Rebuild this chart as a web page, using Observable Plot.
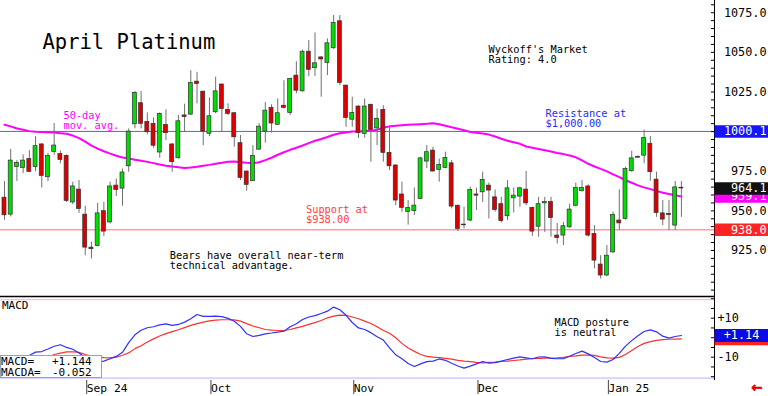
<!DOCTYPE html>
<html><head><meta charset="utf-8">
<script src="https://cdn.jsdelivr.net/npm/d3@7"></script>
<script src="https://cdn.jsdelivr.net/npm/@observablehq/plot@0.6"></script>
<style>
html,body{margin:0;padding:0;background:#fff;}
#chart{position:relative;width:768px;height:396px;overflow:hidden;font-family:"DejaVu Sans Mono",monospace;background:#fff;}
#chart svg{position:absolute;left:0;}
#readout{position:absolute;left:0;top:355px;width:100px;height:21px;border:1px solid #a0a0a0;background:#fff;font-size:11px;line-height:11px;color:#000;}
#readout .row{position:relative;height:11px;}
#readout .val{position:absolute;left:51px;top:0;}
</style></head>
<body><div id="chart"></div>
<script>
// ---- data (daily candles, index 0 = first bar) ----
const open = [958.3,947.6,977.6,977.1,982.7,977.6,991.9,971.2,987.2,985.8,
984.7,955.3,963.4,947.6,926.8,927.8,949.8,942.7,965.9,964.0,
978.1,1004.6,1017.9,1006.1,1004.9,986.8,1004.1,991.9,983.2,1010.2,
1010.7,1031.5,1025.2,998.6,1012.2,1029.7,1013.7,1011.6,992.7,974.8,
968.7,988.6,1000.0,1015.0,1004.3,1016.3,1011.8,1035.3,1025.4,1050.4,
1040.0,1046.8,1043.3,1052.6,1069.6,1029.0,1007.5,1015.8,998.6,1016.9,
1002.0,1013.7,986.6,978.6,960.3,949.2,949.8,957.5,981.1,988.0,
975.8,977.1,980.0,953.2,941.3,943.9,960.3,961.7,965.9,958.5,
954.2,946.6,957.9,959.0,963.4,951.9,940.0,954.7,955.5,934.4,
934.4,939.6,953.2,962.4,965.4,935.4,916.1,909.2,923.8,943.9,
944.9,975.0,983.5,984.8,992.3,969.7,948.4,948.1,940.7,964.6];
const high = [968.5,988.8,981.7,985.3,988.0,996.9,992.4,986.3,1005.1,987.8,
985.3,968.1,969.1,952.9,930.1,954.7,955.3,968.1,970.1,976.4,
1001.7,1025.4,1025.2,1011.8,1008.6,1011.8,1013.8,992.2,1010.2,1017.3,
1038.4,1037.4,1025.4,1021.3,1034.3,1029.9,1017.5,1011.8,997.5,975.1,
991.1,1005.1,1018.3,1016.9,1020.6,1032.1,1033.6,1044.1,1051.4,1057.4,
1062.2,1047.3,1058.5,1073.2,1073.2,1029.3,1021.7,1016.3,1020.6,1017.3,
1014.2,1016.3,1002.7,979.2,968.1,956.5,964.4,983.7,991.1,990.1,
982.7,987.0,981.7,953.7,952.2,965.0,964.4,974.4,967.5,963.2,
958.5,969.1,964.4,964.9,974.8,952.2,958.5,958.5,958.5,942.0,
942.7,954.2,967.5,969.1,966.4,940.7,921.7,928.1,949.2,963.2,
977.6,987.6,984.7,1001.0,996.9,974.4,956.5,956.5,968.5,968.5];
const low = [944.1,946.1,968.5,973.6,974.4,974.6,964.4,968.5,985.1,979.7,
955.3,953.9,948.4,921.7,919.7,927.3,933.9,941.7,959.0,952.9,
974.4,1001.7,1001.7,998.0,989.5,983.2,994.3,974.4,982.7,999.6,
1010.2,1017.5,991.1,996.8,1011.2,999.6,1010.2,990.1,969.1,962.4,
968.5,988.3,992.7,999.0,1004.1,1014.2,1010.2,1023.8,1024.9,1034.6,
1034.7,1021.7,1035.3,1051.9,1029.0,1002.7,1002.7,995.7,995.9,980.7,
991.1,980.7,975.4,953.2,949.2,941.0,947.1,957.3,976.6,974.6,
968.1,976.6,951.2,936.9,938.6,943.0,950.2,955.3,944.9,949.2,
942.5,943.9,948.7,952.2,953.2,933.9,933.4,936.4,933.4,929.1,
928.1,939.0,952.7,961.9,933.4,913.4,907.0,908.5,923.2,937.6,
944.1,974.4,983.2,979.7,968.7,945.9,940.7,937.6,937.6,945.9];
const close = [947.2,981.7,980.3,981.7,974.6,990.8,972.0,984.7,991.2,982.1,
956.3,965.4,951.2,926.8,925.8,948.4,936.9,965.4,963.2,974.2,
1000.0,1024.4,1004.9,999.6,991.1,1011.2,999.0,980.7,1006.5,1009.2,
1030.7,1030.1,1000.0,1009.7,1025.4,1014.2,1011.2,996.4,970.8,966.4,
984.7,1003.1,1013.2,1005.1,1011.6,1015.0,1033.3,1025.8,1050.4,1039.0,
1043.1,1045.5,1055.7,1068.5,1030.7,1008.6,1011.8,999.0,1015.8,1001.0,
1008.1,986.6,978.1,956.5,951.9,951.9,953.3,983.1,987.0,974.8,
978.9,983.4,952.7,938.6,940.9,963.2,959.6,969.5,962.8,950.6,
943.5,964.2,959.6,964.2,954.7,936.9,954.2,955.5,945.5,932.9,
940.3,950.8,964.4,964.4,934.4,918.6,909.2,921.7,947.4,942.1,
976.5,983.1,983.9,996.0,974.4,948.7,944.5,947.4,964.8,964.1];
const ma50 = [1004.3,1003.3,1002.0,1001.2,1000.3,999.9,999.7,999.6,999.4,999.0,
998.6,997.5,995.9,993.7,991.2,989.3,987.6,986.1,984.8,983.7,
983.0,982.3,981.6,980.9,980.1,979.2,978.5,978.0,977.5,977.1,
977.3,977.8,978.4,979.0,979.7,980.3,981.0,981.1,980.7,980.3,
980.0,980.7,982.0,983.5,985.4,987.0,988.5,989.8,991.2,992.7,
994.2,995.3,996.6,998.0,999.0,999.5,1000.0,1000.1,1000.3,1000.6,
1001.2,1002.4,1003.3,1003.7,1004.0,1004.3,1004.5,1004.7,1004.9,1005.2,
1004.6,1003.7,1002.7,1001.8,1000.9,999.8,999.3,998.8,998.1,996.9,
995.5,994.2,993.3,992.3,990.6,989.8,989.0,988.2,987.4,986.5,
985.8,984.9,983.8,981.8,979.7,978.0,976.5,974.9,973.0,971.3,
969.3,967.7,966.1,964.8,963.7,962.6,961.4,960.6,959.8,959.1];
const macd = [-12.5,-11.8,-11.0,-10.2,-9.1,-7.4,-7.1,-5.8,-4.4,-3.6,
-5.0,-5.9,-7.9,-10.2,-12.0,-12.5,-12.0,-10.8,-9.6,-7.5,
-2.5,1.5,3.8,5.1,5.6,6.6,7.1,6.3,6.8,8.0,
9.7,11.9,10.9,10.9,11.1,10.8,9.9,8.4,5.8,2.0,
0.6,1.2,2.0,2.4,2.9,3.3,5.6,7.2,9.3,10.6,
11.3,12.4,13.6,15.7,14.3,11.5,7.8,5.0,4.2,2.6,
0.5,-1.2,-5.2,-8.8,-10.8,-13.2,-14.8,-13.4,-12.3,-12.0,
-10.9,-11.6,-13.1,-14.5,-15.6,-14.6,-13.4,-12.2,-13.0,-12.8,
-12.0,-11.2,-10.5,-9.8,-10.3,-10.8,-9.9,-9.8,-10.6,-10.8,
-10.8,-9.5,-8.1,-6.9,-8.3,-10.2,-12.2,-12.5,-11.2,-8.0,
-4.3,-1.5,1.0,3.2,4.0,3.0,0.8,-0.2,0.6,1.14];
const signal = [-12.5,-12.3,-12.0,-11.6,-11.2,-10.8,-10.4,-10.0,-8.6,-7.9,
-7.3,-7.2,-7.5,-8.6,-9.5,-10.0,-10.2,-10.3,-10.0,-9.0,
-7.8,-5.6,-4.1,-2.2,-0.6,0.9,2.1,3.1,4.1,5.2,
6.3,7.2,8.0,8.6,9.0,9.2,9.2,9.1,8.5,7.2,
6.0,5.1,4.2,3.9,3.7,3.7,4.2,5.0,5.8,6.8,
7.7,8.8,10.2,11.1,11.6,11.5,10.6,9.7,8.5,7.3,
5.6,3.7,2.3,0.0,-2.9,-5.3,-7.0,-8.6,-9.6,-10.0,
-10.2,-10.6,-11.0,-11.6,-12.0,-12.3,-12.7,-12.9,-12.7,-12.5,
-12.2,-12.0,-11.7,-11.4,-11.0,-10.8,-10.6,-10.5,-10.4,-10.3,
-10.1,-9.6,-9.3,-8.9,-8.9,-9.1,-9.8,-10.3,-10.5,-10.1,
-8.6,-6.6,-4.5,-2.9,-2.0,-1.4,-1.0,-0.8,-0.7,-0.6];
const resistance = 1000.1;
const support = 938.0;
const priceTicks = [925, 950, 975, 1000, 1025, 1050, 1075];
const macdTicks = [10, -10];
const macdBands = [19.5, -20.7];
const monthIdx = [13, 33, 56, 76, 97];
const monthLabels = ["Sep 24", "Oct", "Nov", "Dec", "Jan 25"];
const readoutLabels = ["MACD=", "MACDA="];
const readoutValues = ["+1.144", "-0.052"];

// ---- drawing ----
const FONT = "'DejaVu Sans Mono', monospace";
const xDomain = [-0.644, 114.33];
const xEdge = xDomain[1];
const priceDomain = [895.96, 1082.71];
const candles = open.map((o, i) => ({i, o, h: high[i], l: low[i], c: close[i]}));
const maData = ma50.map((v, i) => ({i, v}));
const macdData = macd.map((v, i) => ({i, v}));
const sigData = signal.map((v, i) => ({i, v}));
const priceMinor = d3.range(900, 1081, 5);
const macdMinor = d3.range(-20, 21, 5);

const note = (text, x, y, color, size = 10.3) =>
  Plot.text([text], {text: d => d, frameAnchor: "top-left", dx: x, dy: y, lineAnchor: "bottom",
    textAnchor: "start", fontSize: size, lineHeight: 0.97, fill: color});

const priceBoxes = [
  {v: resistance, color: "#1414ff"},
  {v: ma50[ma50.length - 1], color: "#ff00ff"},
  {v: close[close.length - 1], color: "#111111"},
  {v: support, color: "#ff2424"}
];

const price = Plot.plot({
  width: 768, height: 297, marginTop: 0, marginRight: 54, marginBottom: 1, marginLeft: 0,
  style: {background: "transparent", fontFamily: FONT, overflow: "visible"},
  x: {domain: xDomain, axis: null, label: null},
  y: {domain: priceDomain, axis: null, label: null},
  marks: [
    Plot.ruleY([resistance], {stroke: "#5a5aff", strokeWidth: 1}),
    Plot.ruleY([support], {stroke: "#ff9c9c", strokeWidth: 1.5}),
    Plot.line(maData, {x: "i", y: "v", stroke: "#ff00ff", strokeWidth: 2}),
    Plot.ruleX(candles, {x: "i", y1: "l", y2: "h", stroke: "#707070", strokeWidth: 1}),
    Plot.rect(candles, {x1: d => d.i - 0.32, x2: d => d.i + 0.32,
      y1: d => Math.min(d.o, d.c), y2: d => Math.max(d.o, d.c),
      fill: d => d.c > d.o ? "#00dd00" : "#dd0000", stroke: "#303030", strokeWidth: 0.7}),
    Plot.ruleY([priceDomain[0]], {stroke: "#000", strokeWidth: 1.5}),
    Plot.ruleX([xEdge], {stroke: "#000", strokeWidth: 1}),
    Plot.ruleY(priceMinor, {x1: xEdge - 0.5, x2: xEdge, stroke: "#000", strokeWidth: 1}),
    Plot.text(priceTicks, {y: d => d, text: d => d.toFixed(1), frameAnchor: "right", dx: 52,
      textAnchor: "end", fontSize: 11.8, fill: "#000"}),
    ...priceBoxes.flatMap(b => [
      Plot.ruleY([b], {y: "v", x1: xEdge + 0.1, x2: xEdge + 9, stroke: b.color, strokeWidth: 12.5}),
      Plot.text([b], {y: "v", text: d => d.v.toFixed(1), frameAnchor: "right", dx: 52,
        textAnchor: "end", fontSize: 11.8, fill: "#fff"})
    ]),
    note("April Platinum", 42, 48, "#000", 20.5),
    note("Wyckoff's Market\nRating: 4.0", 488, 62.7, "#000"),
    note("Resistance at\n$1,000.00", 545, 126.7, "#2a2aff"),
    note("50-day\nmov. avg.", 63, 128.3, "#ff00ff"),
    note("Support at\n$938.00", 305.5, 222.8, "#ff4040"),
    note("Bears have overall near-term\ntechnical advantage.", 169.3, 268.2, "#000")
  ]
});

const macdBoxes = [
  {v: signal[signal.length - 1], color: "#ff2020"},
  {v: macd[macd.length - 1], color: "#0a0ae6"}
];

const macdPlot = Plot.plot({
  width: 768, height: 100, marginTop: 0, marginRight: 54, marginBottom: 16, marginLeft: 0,
  style: {background: "transparent", fontFamily: FONT, overflow: "visible"},
  x: {domain: xDomain, axis: null, label: null},
  y: {domain: [-21.95, 21.13], axis: null, label: null},
  marks: [
    Plot.ruleY([macdBands[0]], {stroke: "#ffb4b4", strokeWidth: 1}),
    Plot.ruleY([macdBands[1]], {stroke: "#b4b4ff", strokeWidth: 1}),
    Plot.line(sigData, {x: "i", y: "v", stroke: "#ff3030", strokeWidth: 1.2}),
    Plot.line(macdData, {x: "i", y: "v", stroke: "#3030ff", strokeWidth: 1.2}),
    Plot.ruleX([xEdge], {stroke: "#000", strokeWidth: 1}),
    Plot.ruleY(macdMinor, {x1: xEdge - 0.5, x2: xEdge, stroke: "#000", strokeWidth: 1}),
    Plot.text(macdTicks, {y: d => d, text: d => (d > 0 ? "+" : "-") + Math.abs(d), frameAnchor: "right",
      dx: 3, textAnchor: "start", fontSize: 11.8, fill: "#000"}),
    Plot.ruleY(macdBoxes, {y: "v", x1: xEdge + 0.1, x2: xEdge + 9, stroke: "color", strokeWidth: 13}),
    Plot.text([macdBoxes[1]], {y: "v", text: d => (d.v >= 0 ? "+" : "") + d.v.toFixed(2),
      frameAnchor: "right", dx: 27, textAnchor: "middle", fontSize: 11.8, fill: "#fff"}),
    Plot.axisX(monthIdx, {anchor: "bottom", label: null, tickSize: 14, tickPadding: -2.5, lineAnchor: "bottom",
      textAnchor: "start", dx: 1.5, fontSize: 11.3, stroke: "#444", fill: "#000",
      tickFormat: d => monthLabels[monthIdx.indexOf(d)]}),
    Plot.text(["MACD"], {text: d => d, frameAnchor: "top-left", dx: 1.5, dy: 12, lineAnchor: "bottom",
      textAnchor: "start", fontSize: 11, fill: "#000"}),
    Plot.text(["MACD posture\nis neutral"], {text: d => d, frameAnchor: "top-left", dx: 554, dy: 39.7,
      lineAnchor: "bottom", textAnchor: "start", fontSize: 10.3, lineHeight: 0.97, fill: "#000"}),
    Plot.text(["\u2190"], {text: d => d, frameAnchor: "bottom-right", dx: 48, dy: 7.5, lineAnchor: "middle",
      fontSize: 13, fontWeight: "bold", fill: "#e00000", stroke: "#e00000", strokeWidth: 0.8,
      fontFamily: "'DejaVu Sans', sans-serif"})
  ]
});

const chart = document.getElementById("chart");
price.style.top = "0px";
macdPlot.style.top = "296px";
chart.appendChild(price);
chart.appendChild(macdPlot);

const readout = document.createElement("div");
readout.id = "readout";
readoutLabels.forEach((lab, k) => {
  const row = document.createElement("div");
  row.className = "row";
  const a = document.createElement("span"); a.textContent = lab;
  const b = document.createElement("span"); b.className = "val"; b.textContent = readoutValues[k];
  row.appendChild(a); row.appendChild(b);
  readout.appendChild(row);
});
chart.appendChild(readout);
</script></body></html>
